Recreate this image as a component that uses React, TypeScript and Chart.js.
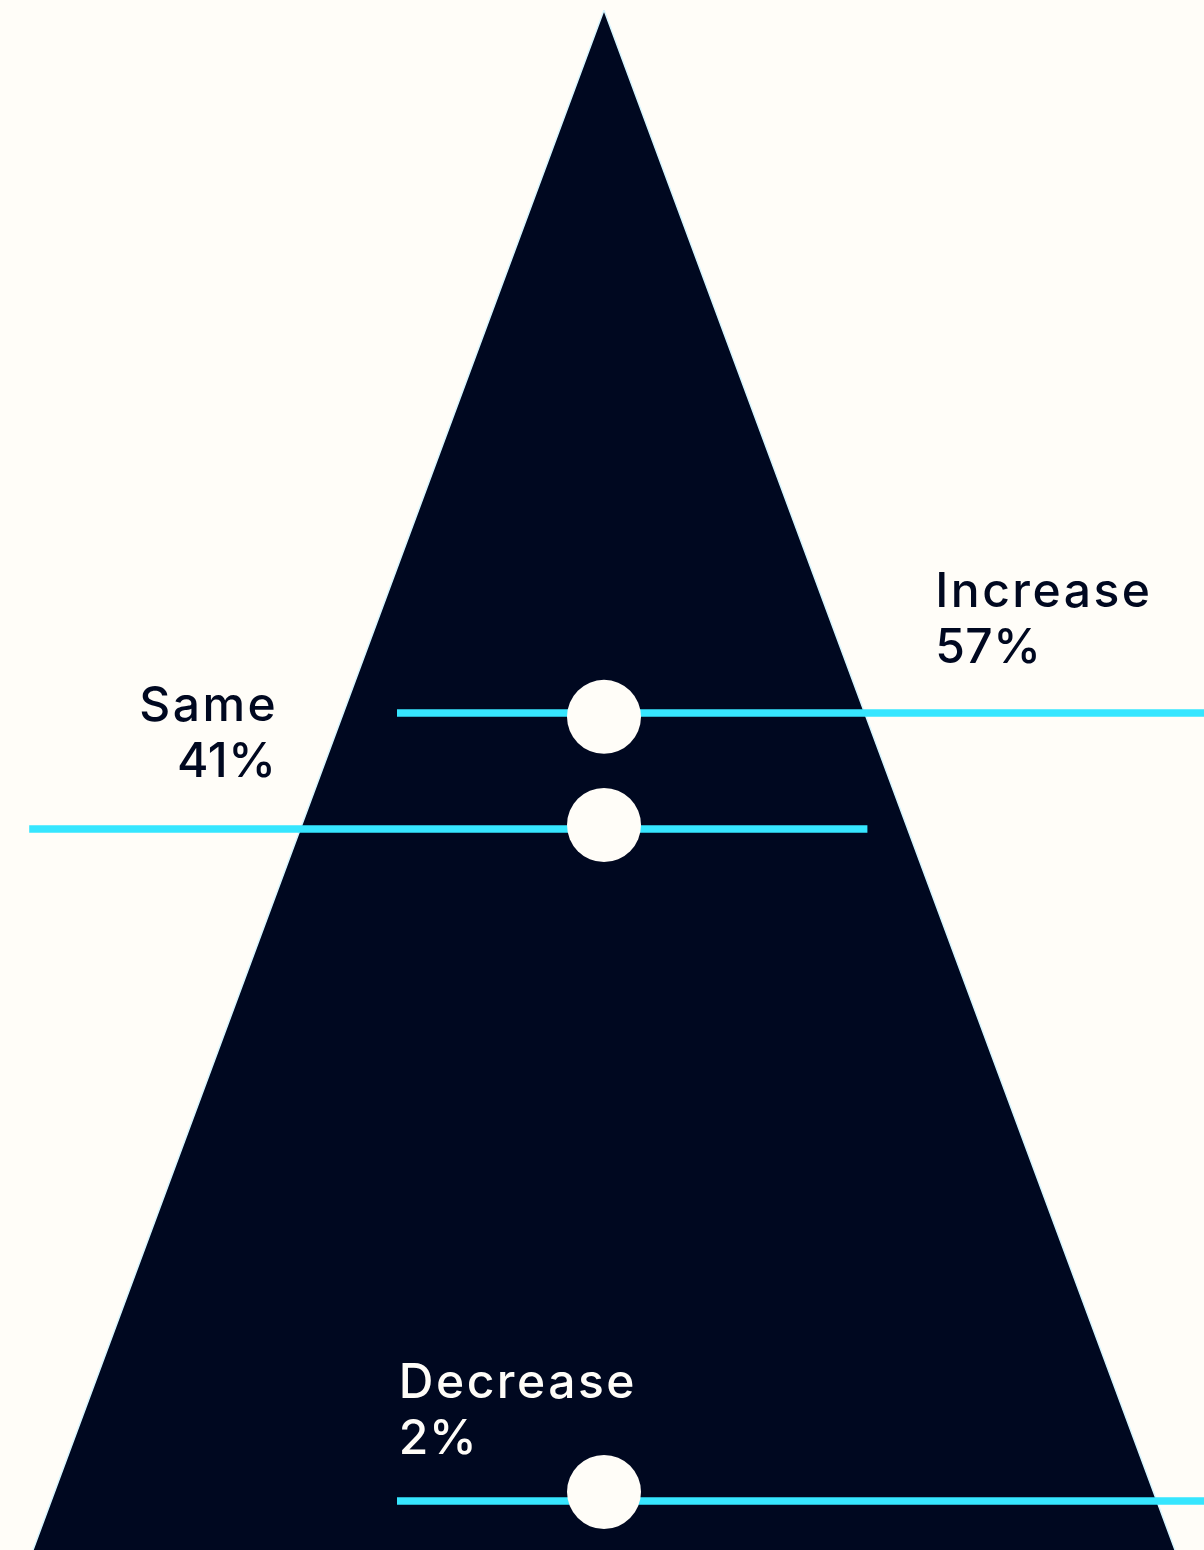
import React, { useEffect, useRef } from "react";
import { Chart, registerables } from "chart.js";

Chart.register(...registerables);

// ---- data ----
const categories = ["Increase", "Same", "Decrease"];
const percentages = [57, 41, 2];
// vertical level (0 = base of triangle, 100 = apex) of each cyan line and dot
const lineLevels = [54.35, 46.82, 3.18];
const dotLevels = [54.1, 47.08, 3.77];
// horizontal extent of each cyan line (-100 .. 100, 0 = triangle axis)
const lineStart = [-34.5, -95.8, -34.5];
const lineEnd = [100, 43.9, 100];
// label anchors in the same data space
const labelX = [55.2, -54.7, -34.2];
const labelY = [61.25, 53.8, 9.9];
const labelAlign: CanvasTextAlign[] = ["left", "right", "left"];
const labelOnDark = [false, false, true];
// triangle
const apexLevel = 100;
const baseHalfWidth = 95.17;

const BG = "#fffdf8";
const NAVY = "#000820";
const CYAN = "#36e6ff";
const NAME_SPACING = 2.5;
const PCT_SPACING = 0.5;

const labelPlugin = {
  id: "pyramidLabels",
  afterDatasetsDraw(chart: any) {
    const { ctx, scales } = chart;
    const xs = scales.x;
    const ys = scales.y;
    ctx.save();
    ctx.font = "500 48px Inter, 'Noto Sans', sans-serif";
    ctx.textBaseline = "alphabetic";
    const put = (text: string, x: number, y: number, align: CanvasTextAlign, sp: number) => {
      try {
        (ctx as any).letterSpacing = sp + "px";
      } catch (e) {}
      ctx.textAlign = align;
      ctx.fillText(text, align === "right" ? x + sp : x, y);
    };
    categories.forEach((cat, i) => {
      const px = xs.getPixelForValue(labelX[i]);
      const py = ys.getPixelForValue(labelY[i]);
      ctx.fillStyle = labelOnDark[i] ? BG : NAVY;
      put(cat, px, py, labelAlign[i], NAME_SPACING);
      put(percentages[i] + "%", px, py + 56, labelAlign[i], PCT_SPACING);
    });
    ctx.restore();
  },
};

export default function App() {
  const ref = useRef<HTMLCanvasElement | null>(null);

  useEffect(() => {
    document.body.style.margin = "0";
    document.body.style.background = BG;
    const canvas = ref.current;
    if (!canvas) return;

    const triangle = {
      type: "line" as const,
      label: "pyramid",
      data: [
        { x: -baseHalfWidth, y: 0 },
        { x: 0, y: apexLevel },
        { x: baseHalfWidth, y: 0 },
      ],
      backgroundColor: NAVY,
      borderColor: "#d6f5ff",
      borderWidth: 1.5,
      pointRadius: 0,
      fill: "origin",
      tension: 0,
      order: 3,
    };

    const lines = categories.map((cat, i) => ({
      type: "line" as const,
      label: cat + " line",
      data: [
        { x: lineStart[i], y: lineLevels[i] },
        { x: lineEnd[i], y: lineLevels[i] },
      ],
      borderColor: CYAN,
      borderWidth: 7.5,
      borderCapStyle: "butt" as const,
      pointRadius: 0,
      fill: false,
      order: 2,
    }));

    const dots = {
      type: "scatter" as const,
      label: "dots",
      data: categories.map((_, i) => ({ x: 0, y: dotLevels[i] })),
      backgroundColor: BG,
      borderWidth: 0,
      pointRadius: 37,
      pointHoverRadius: 37,
      order: 1,
    };

    const chart = new Chart(canvas, {
      type: "scatter",
      data: { datasets: [triangle, ...lines, dots] as any },
      options: {
        animation: false,
        responsive: false,
        maintainAspectRatio: false,
        devicePixelRatio: 1,
        layout: { autoPadding: false, padding: { left: 4, top: 10, right: 0, bottom: 0 } },
        scales: {
          x: { type: "linear", min: -100, max: 100, display: false },
          y: { type: "linear", min: 0, max: 100, display: false },
        },
        plugins: {
          legend: { display: false },
          tooltip: { enabled: false },
        },
        events: [],
      } as any,
      plugins: [labelPlugin],
    });

    return () => chart.destroy();
  }, []);

  return (
    <div style={{ width: 1204, height: 1550, background: BG, overflow: "hidden" }}>
      <canvas ref={ref} width={1204} height={1550} style={{ display: "block" }} />
    </div>
  );
}
